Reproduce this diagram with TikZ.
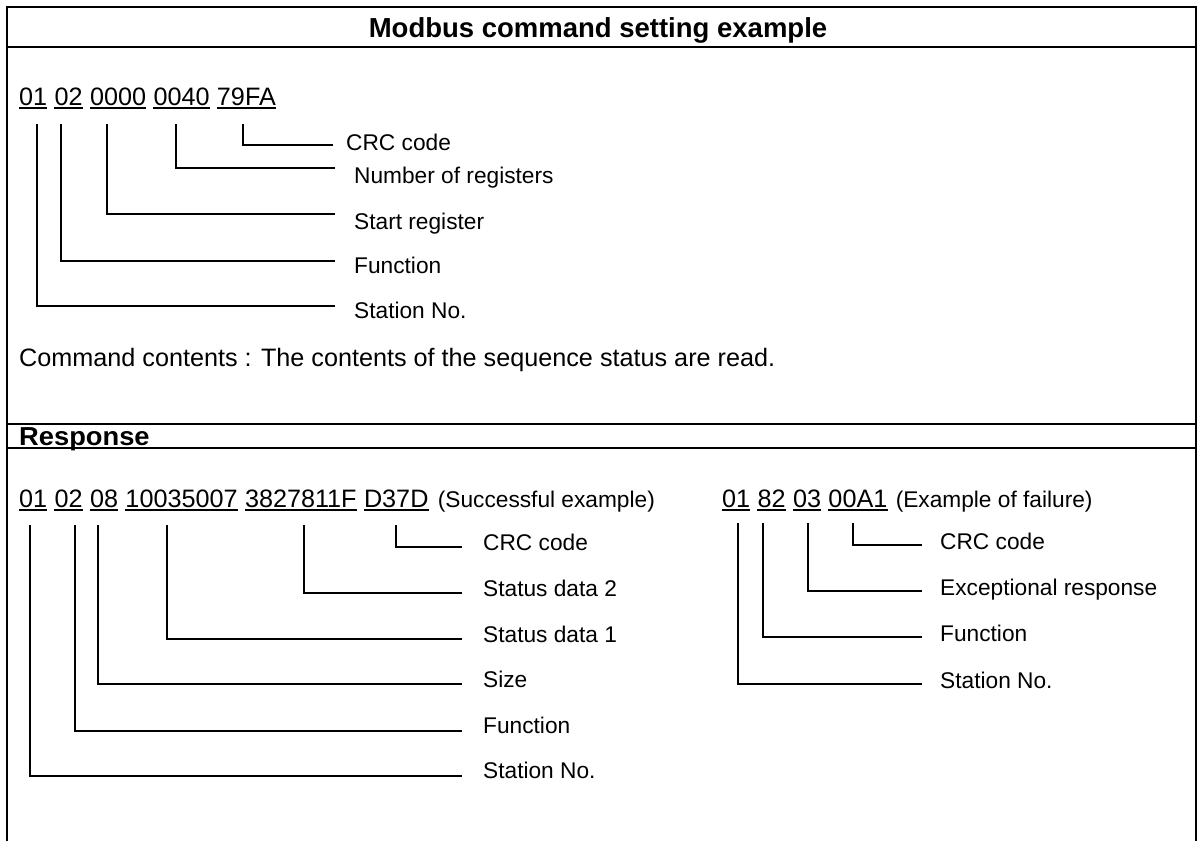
\documentclass[tikz,border=0pt]{standalone}
\usepackage{fontspec}
\setmainfont{Liberation Sans}
\usetikzlibrary{calc}
\tikzset{
  frame/.style={line width=2pt},
  lead/.style={line width=1.3pt},
  uline/.style={line width=1.3pt},
  code/.style={inner sep=0pt, anchor=base west, font=\fontsize{25.2}{30}\selectfont},
  lbl/.style={inner sep=0pt, anchor=base west, font=\fontsize{22.7}{27}\selectfont},
  head/.style={inner sep=0pt, font=\fontsize{27.5}{33}\selectfont\bfseries},
  subhead/.style={inner sep=0pt, font=\fontsize{26}{30}\selectfont\bfseries},
}
\begin{document}
\begin{tikzpicture}[x=1pt,y=-1pt]
\useasboundingbox (0,0) rectangle (1197,841);
% frame
\draw[frame] (7,841) -- (7,7) -- (1196,7) -- (1196,841);
\draw[frame] (7,47) -- (1196,47);
\draw[frame] (7,424) -- (1196,424);
\draw[frame] (7,448) -- (1196,448);
% headings
\node[head, anchor=base] (title) at (598,37) {Modbus command setting example};
\node[subhead, anchor=base west] (resp) at (19,445.5) {\scalebox{1.05}[1]{Response}};

% ---- command ----
\node[code] (c1) at (19,105) {01};
\node[code] (c2) at ([xshift=7pt]c1.base east) {02};
\node[code] (c3) at ([xshift=7pt]c2.base east) {0000};
\node[code] (c4) at ([xshift=7pt]c3.base east) {0040};
\node[code] (c5) at ([xshift=7pt]c4.base east) {79FA};
\foreach \n in {c1,c2,c3,c4,c5}
  \draw[uline] ([yshift=-3pt]\n.base west) -- ([yshift=-3pt]\n.base east);

\node[lbl] (l5) at (346,150) {CRC code};
\node[lbl] (l4) at (354,183) {Number of registers};
\node[lbl] (l3) at (354,229) {Start register};
\node[lbl] (l2) at (354,273) {Function};
\node[lbl] (l1) at (354,318) {Station No.};

\coordinate (v5) at (243,124); \coordinate (e5) at (333,145);
\coordinate (v4) at (176,124); \coordinate (e4) at (335,168);
\coordinate (v3) at (107,124); \coordinate (e3) at (335,214);
\coordinate (v2) at (61,124);  \coordinate (e2) at (335,261);
\coordinate (v1) at (37,124);  \coordinate (e1) at (335,306);
\foreach \i in {1,...,5} \draw[lead] (v\i) |- (e\i);

\node[code] (cc) at (19,366) {Command contents : The contents of the sequence status are read.};

% ---- response, successful ----
\node[code] (s1) at (19,507) {01};
\node[code] (s2) at ([xshift=7pt]s1.base east) {02};
\node[code] (s3) at ([xshift=7pt]s2.base east) {08};
\node[code] (s4) at ([xshift=7pt]s3.base east) {10035007};
\node[code] (s5) at ([xshift=7pt]s4.base east) {3827811F};
\node[code] (s6) at ([xshift=7pt]s5.base east) {D37D};
\foreach \n in {s1,s2,s3,s4,s5,s6}
  \draw[uline] ([yshift=-3pt]\n.base west) -- ([yshift=-3pt]\n.base east);
\node[lbl] (sp) at ([xshift=9pt]s6.base east) {(Successful example)};

\node[lbl] (m6) at (483,550) {CRC code};
\node[lbl] (m5) at (483,596) {Status data 2};
\node[lbl] (m4) at (483,642) {Status data 1};
\node[lbl] (m3) at (483,687) {Size};
\node[lbl] (m2) at (483,733) {Function};
\node[lbl] (m1) at (483,778) {Station No.};

\coordinate (w6) at (396,525); \coordinate (f6) at (462,547);
\coordinate (w5) at (304,525); \coordinate (f5) at (462,593);
\coordinate (w4) at (167,525); \coordinate (f4) at (462,639);
\coordinate (w3) at (98,525);  \coordinate (f3) at (462,684);
\coordinate (w2) at (75,525);  \coordinate (f2) at (462,731);
\coordinate (w1) at (30,525);  \coordinate (f1) at (462,776);
\foreach \i in {1,...,6} \draw[lead] (w\i) |- (f\i);

% ---- response, failure ----
\node[code] (x1) at (722,507) {01};
\node[code] (x2) at ([xshift=7pt]x1.base east) {82};
\node[code] (x3) at ([xshift=7pt]x2.base east) {03};
\node[code] (x4) at ([xshift=7pt]x3.base east) {00A1};
\foreach \n in {x1,x2,x3,x4}
  \draw[uline] ([yshift=-3pt]\n.base west) -- ([yshift=-3pt]\n.base east);
\node[lbl] (xp) at ([xshift=8pt]x4.base east) {(Example of failure)};

\node[lbl] (n4) at (940,549) {CRC code};
\node[lbl] (n3) at (940,595) {Exceptional response};
\node[lbl] (n2) at (940,641) {Function};
\node[lbl] (n1) at (940,688) {Station No.};

\coordinate (y4) at (853,523); \coordinate (g4) at (922,545);
\coordinate (y3) at (808,523); \coordinate (g3) at (922,591);
\coordinate (y2) at (763,523); \coordinate (g2) at (922,637);
\coordinate (y1) at (738,523); \coordinate (g1) at (922,684);
\foreach \i in {1,...,4} \draw[lead] (y\i) |- (g\i);
\end{tikzpicture}
\end{document}
